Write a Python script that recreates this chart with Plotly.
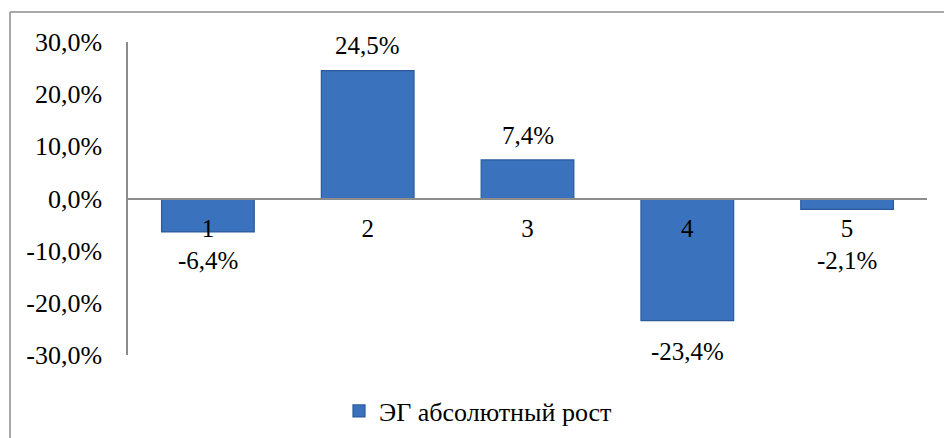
import plotly.graph_objects as go

categories = ["1", "2", "3", "4", "5"]
growth = [-6.4, 24.5, 7.4, -23.4, -2.1]
series_name = "ЭГ абсолютный рост"
y_ticks = [-30, -20, -10, 0, 10, 20, 30]
y_tick_labels = ["-30,0%", "-20,0%", "-10,0%", "0,0%", "10,0%", "20,0%", "30,0%"]

# extra downward push for the small negative value so its label clears the category text
label_shift = [-29, 25, 24, -31, -51]

FONT = "Liberation Serif"
FS = 25
W, H = 944, 438
L, R, T, B = 128, 17, 42, 83
plot_w = W - L - R
plot_h = H - T - B

def fmt(v):
    return f"{v:.1f}".replace(".", ",") + "%"

fig = go.Figure()
fig.add_trace(go.Bar(
    x=categories,
    y=growth,
    name=series_name,
    width=0.58,
    marker=dict(color="#3A72BE", line=dict(color="#2B5A9B", width=1.2)),
    showlegend=True,
))

for i, (v, s) in enumerate(zip(growth, label_shift)):
    fig.add_annotation(
        x=i, y=v, text=fmt(v), showarrow=False, yshift=s,
        font=dict(family=FONT, size=FS, color="#000"),
    )

fig.update_layout(
    width=W, height=H,
    margin=dict(l=L, r=R, t=T, b=B, autoexpand=False),
    paper_bgcolor="white",
    plot_bgcolor="white",
    font=dict(family=FONT, size=FS, color="#000"),
    xaxis=dict(
        type="category",
        range=[-0.5, 4.5],
        anchor="free",
        position=0.5,
        showline=True,
        linecolor="#8c8c8c",
        linewidth=1.5,
        ticks="",
        showgrid=False,
        tickfont=dict(family=FONT, size=FS, color="#000"),
        ticklabelstandoff=8,
        layer="above traces",
    ),
    yaxis=dict(
        range=[-30, 30],
        tickvals=y_ticks,
        ticktext=y_tick_labels,
        showline=True,
        linecolor="#8c8c8c",
        linewidth=1.5,
        showgrid=False,
        zeroline=False,
        ticks="",
        ticklabelstandoff=19,
        tickfont=dict(family=FONT, size=FS + 1, color="#000"),
    ),
    legend=dict(
        orientation="h",
        xref="container", yref="container",
        x=339 / W, xanchor="left",
        y=1 - 411 / H, yanchor="middle",
        font=dict(family=FONT, size=FS + 1, color="#000"),
        itemwidth=30,
    ),
)

# chart frame (top and left edges)
x_left = (10 - L) / plot_w
y_top = (H - B - 12) / plot_h
fig.add_shape(type="line", xref="paper", yref="paper",
              x0=x_left, x1=(W - L) / plot_w, y0=y_top, y1=y_top,
              line=dict(color="#8c8c8c", width=1.5))
fig.add_shape(type="line", xref="paper", yref="paper",
              x0=x_left, x1=x_left, y0=y_top, y1=-(B) / plot_h,
              line=dict(color="#8c8c8c", width=1.5))

fig.write_html("out.html")
